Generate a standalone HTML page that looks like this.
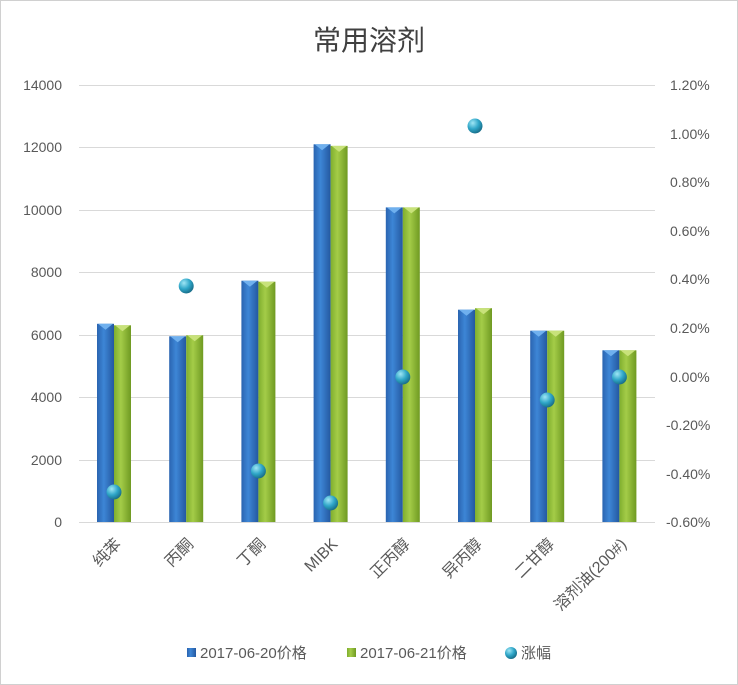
<!DOCTYPE html><html><head><meta charset="utf-8"><style>body{margin:0;background:#fff}svg{display:block}</style></head><body>
<svg width="738" height="685" xmlns="http://www.w3.org/2000/svg" font-family="Liberation Sans, Noto Sans CJK SC, sans-serif">
<defs>
<linearGradient id="b" x1="0" x2="1"><stop offset="0" stop-color="#2a64b0"/><stop offset=".4" stop-color="#3d86d6"/><stop offset="1" stop-color="#2458a0"/></linearGradient>
<linearGradient id="g" x1="0" x2="1"><stop offset="0" stop-color="#7fae2e"/><stop offset=".4" stop-color="#a4cc48"/><stop offset="1" stop-color="#6f9a22"/></linearGradient>
<radialGradient id="d" cx=".35" cy=".3" r=".8"><stop offset="0" stop-color="#9fe6f5"/><stop offset=".5" stop-color="#2fa6c8"/><stop offset="1" stop-color="#13607a"/></radialGradient>
</defs>
<rect x="0.5" y="0.5" width="737" height="684" fill="#fff" stroke="#d0d0d0"/>
<text x="369" y="50" text-anchor="middle" font-size="28" fill="#404040">常用溶剂</text>
<g stroke="#d9d9d9" stroke-width="1">
<line x1="79" x2="655" y1="85.5" y2="85.5"/><line x1="79" x2="655" y1="147.5" y2="147.5"/><line x1="79" x2="655" y1="210.5" y2="210.5"/><line x1="79" x2="655" y1="272.5" y2="272.5"/><line x1="79" x2="655" y1="335.5" y2="335.5"/><line x1="79" x2="655" y1="397.5" y2="397.5"/><line x1="79" x2="655" y1="460.5" y2="460.5"/><line x1="79" x2="655" y1="522.5" y2="522.5"/>
</g>
<g font-size="14" fill="#595959" text-anchor="end">
<text x="62" y="90">14000</text><text x="62" y="152">12000</text><text x="62" y="215">10000</text><text x="62" y="277">8000</text><text x="62" y="340">6000</text><text x="62" y="402">4000</text><text x="62" y="465">2000</text><text x="62" y="527">0</text>
</g>
<g font-size="14" fill="#595959">
<text x="670" y="90">1.20%</text><text x="670" y="139">1.00%</text><text x="670" y="187">0.80%</text><text x="670" y="236">0.60%</text><text x="670" y="284">0.40%</text><text x="670" y="333">0.20%</text><text x="670" y="382">0.00%</text><text x="666" y="430">-0.20%</text><text x="666" y="479">-0.40%</text><text x="666" y="527">-0.60%</text>
</g>
<g fill="url(#b)">
<rect x="97" y="323.8" width="17" height="198.2"/>
<rect x="169.2" y="336.3" width="17" height="185.7"/>
<rect x="241.4" y="280.7" width="17" height="241.3"/>
<rect x="313.6" y="144.3" width="17" height="377.7"/>
<rect x="385.8" y="207.4" width="17" height="314.6"/>
<rect x="458" y="309.7" width="17" height="212.3"/>
<rect x="530.2" y="330.7" width="17" height="191.3"/>
<rect x="602.4" y="350.3" width="17" height="171.7"/>
</g>
<g fill="url(#g)">
<rect x="114" y="325.3" width="17" height="196.7"/>
<rect x="186.2" y="335.3" width="17" height="186.7"/>
<rect x="258.4" y="281.7" width="17" height="240.3"/>
<rect x="330.6" y="145.9" width="17" height="376.1"/>
<rect x="402.8" y="207.4" width="17" height="314.6"/>
<rect x="475" y="308.2" width="17" height="213.8"/>
<rect x="547.2" y="330.7" width="17" height="191.3"/>
<rect x="619.4" y="350.3" width="17" height="171.7"/>
</g>
<g fill="#6fb0ee">
<polygon points="98,323.8 113,323.8 105.5,329.8"/>
<polygon points="170.2,336.3 185.2,336.3 177.7,342.3"/>
<polygon points="242.4,280.7 257.4,280.7 249.9,286.7"/>
<polygon points="314.6,144.3 329.6,144.3 322.1,150.3"/>
<polygon points="386.8,207.4 401.8,207.4 394.3,213.4"/>
<polygon points="459,309.7 474,309.7 466.5,315.7"/>
<polygon points="531.2,330.7 546.2,330.7 538.7,336.7"/>
<polygon points="603.4,350.3 618.4,350.3 610.9,356.3"/>
</g>
<g fill="#c8e27a">
<polygon points="115,325.3 130,325.3 122.5,331.3"/>
<polygon points="187.2,335.3 202.2,335.3 194.7,341.3"/>
<polygon points="259.4,281.7 274.4,281.7 266.9,287.7"/>
<polygon points="331.6,145.9 346.6,145.9 339.1,151.9"/>
<polygon points="403.8,207.4 418.8,207.4 411.3,213.4"/>
<polygon points="476,308.2 491,308.2 483.5,314.2"/>
<polygon points="548.2,330.7 563.2,330.7 555.7,336.7"/>
<polygon points="620.4,350.3 635.4,350.3 627.9,356.3"/>
</g>
<g font-size="16" fill="#595959" text-anchor="end">
<text transform="translate(122,545) rotate(-45)">纯苯</text>
<text transform="translate(194.2,545) rotate(-45)">丙酮</text>
<text transform="translate(266.4,545) rotate(-45)">丁酮</text>
<text transform="translate(338.6,545) rotate(-45)">MIBK</text>
<text transform="translate(410.8,545) rotate(-45)">正丙醇</text>
<text transform="translate(483,545) rotate(-45)">异丙醇</text>
<text transform="translate(555.2,545) rotate(-45)">二甘醇</text>
<text transform="translate(627.4,545) rotate(-45)">溶剂油(200#)</text>
</g>
<g fill="url(#d)">
<circle cx="114" cy="492" r="7.5"/>
<circle cx="186.2" cy="286" r="7.5"/>
<circle cx="258.4" cy="471" r="7.5"/>
<circle cx="330.6" cy="503" r="7.5"/>
<circle cx="402.8" cy="377" r="7.5"/>
<circle cx="475" cy="126" r="7.5"/>
<circle cx="547.2" cy="400" r="7.5"/>
<circle cx="619.4" cy="377" r="7.5"/>
</g>
<rect x="187" y="648" width="9" height="9" fill="url(#b)"/>
<text x="200" y="658" font-size="15" fill="#595959">2017-06-20价格</text>
<rect x="347" y="648" width="9" height="9" fill="url(#g)"/>
<text x="360" y="658" font-size="15" fill="#595959">2017-06-21价格</text>
<circle cx="511" cy="653" r="6" fill="url(#d)"/>
<text x="521" y="658" font-size="15" fill="#595959">涨幅</text>
</svg>
</body></html>
